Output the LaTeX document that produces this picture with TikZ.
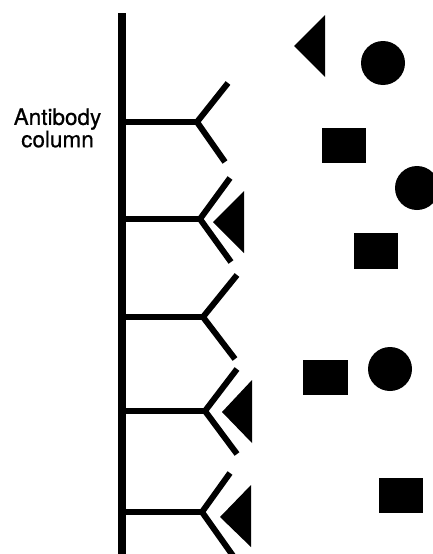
\documentclass[tikz,border=0pt]{standalone}
\usepackage{fontspec}
\setmainfont{TeX Gyre Heros}
\newfontfamily\lblfont{TeX Gyre Heros}[FakeBold=0.6]
\begin{document}
\begin{tikzpicture}[x=1pt,y=-1pt,
  arm/.style={line width=6pt,line cap=butt,line join=miter},
  column/.style={line width=7.5pt},
  molecule/.style={fill=black},
  antigen/.style={fill=black}]
\useasboundingbox (0,0) rectangle (433,554);
\clip (0,0) rectangle (433,554);
% column
\coordinate (ctop) at (122,13);
\coordinate (cbot) at (122,560);
\draw[column] (ctop) -- (cbot);
\node[font=\lblfont\fontsize{22.5}{16.5}\selectfont,align=center,inner sep=0pt] (label) at (57.5,128) {Antibody\\column};
% antibodies: stem y, branch x
\foreach \n/\y/\bx/\ux/\uy/\lx/\ly in {1/122/197/228/83/225/162, 2/219/200/230/178/231/262, 3/317/203/237/275/235/359, 4/411/205/237/369/237/454, 5/512/202/230/473/236/560}{
  \coordinate (s\n) at (122,\y);
  \coordinate (b\n) at (\bx,\y);
  \coordinate (u\n) at (\ux,\uy);
  \coordinate (l\n) at (\lx,\ly);
  \draw[arm] (s\n) -- (b\n);
  \draw[arm] (u\n) -- (b\n) -- (l\n);
}
% bound antigens (triangles)
\fill[antigen] (213,222) -- (244,191) -- (244,253) -- cycle;
\fill[antigen] (222,412) -- (252,380) -- (252,443) -- cycle;
\fill[antigen] (220,517) -- (251,485) -- (251,547) -- cycle;
% free molecules
\fill[molecule] (294,46) -- (325,15) -- (325,77) -- cycle;
\fill[molecule] (383,63) circle (22);
\fill[molecule] (322,128) rectangle (366,163);
\fill[molecule] (417,188) circle (22);
\fill[molecule] (354,233) rectangle (398,269);
\fill[molecule] (303,360) rectangle (348,395);
\fill[molecule] (390,369) circle (22);
\fill[molecule] (379,478) rectangle (423,513);
\end{tikzpicture}
\end{document}
